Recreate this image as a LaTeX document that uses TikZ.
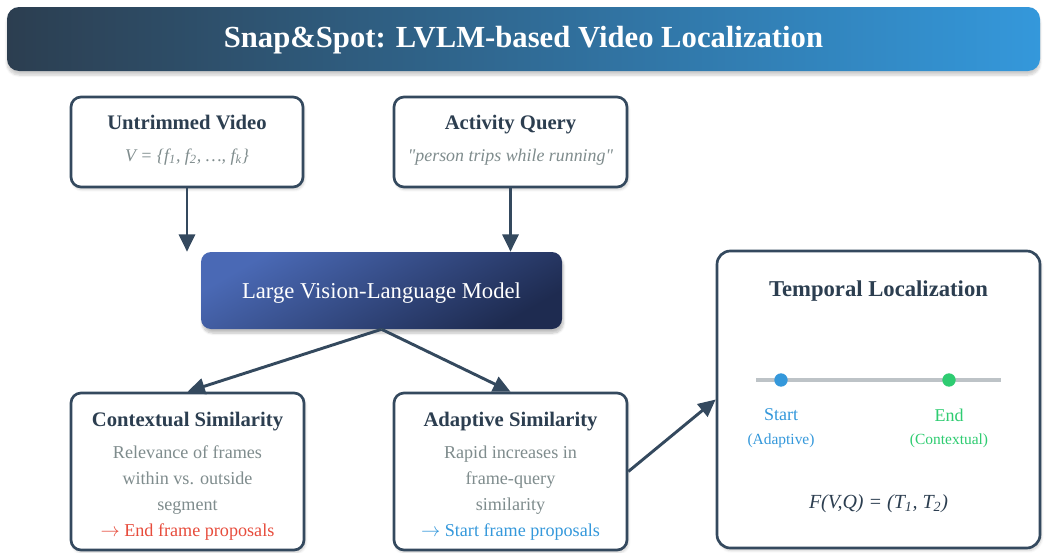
\documentclass[tikz,border=0pt]{standalone}
\usepackage{fontspec}
\setmainfont{Liberation Serif}[Ligatures=TeXOff]
\usetikzlibrary{arrows.meta,shadows.blur}

\definecolor{navy}{HTML}{2C3E50}
\definecolor{slate}{HTML}{34495E}
\definecolor{skyblue}{HTML}{3498DB}
\definecolor{mint}{HTML}{2ECC71}
\definecolor{tomato}{HTML}{E74C3C}
\definecolor{greytext}{HTML}{7F8C8D}
\definecolor{railgrey}{HTML}{BDC3C7}
\definecolor{lvlmtop}{HTML}{4A69B5}
\definecolor{lvlmbot}{HTML}{1E2B50}

\newcommand{\toarrow}{$\rightarrow$}

\tikzset{
  card/.style={draw=slate, line width=2pt, fill=white, rounded corners=7.5pt,
    blur shadow={shadow xshift=1pt, shadow yshift=-2pt, shadow blur steps=6, shadow opacity=18}},
  cardtitle/.style={font=\bfseries\fontsize{15.5}{18}\selectfont, text=navy,
    text height=10.5pt, text depth=3pt},
  cardsub/.style={font=\itshape\fontsize{13.4}{16}\selectfont, text=greytext,
    text height=9pt, text depth=3pt},
  cardbody/.style={font=\fontsize{13.6}{19.5}\selectfont, text=greytext, align=center},
  flow/.style={draw=slate, line width=2.2pt, -{Triangle[length=13pt,width=12pt]}},
}

\begin{document}
\begin{tikzpicture}[x=0.75pt,y=-0.75pt]
  \useasboundingbox (0,0) rectangle (1060,553);

  % --- header bar ---
  \node (header) [left color=navy, right color=skyblue, rounded corners=9pt,
    minimum width=774.75pt, minimum height=48pt,
    blur shadow={shadow xshift=0pt, shadow yshift=-3pt, shadow blur steps=6, shadow opacity=20}]
    at (523.5,39) {};
  \node (headertext) [font=\bfseries\fontsize{23}{27}\selectfont, text=white] at (523.5,40)
    {Snap\&Spot: LVLM-based Video Localization};

  % --- inputs ---
  \node (video) [card, minimum width=174pt, minimum height=67.5pt] at (187,142) {};
  \node (videotitle) [cardtitle] at (187,124) {Untrimmed Video};
  \node (videosub) [cardsub] at (187,157)
    {V = \{f\textsubscript{1}, f\textsubscript{2}, …, f\textsubscript{k}\}};

  \node (query) [card, minimum width=174.75pt, minimum height=67.5pt] at (510.5,142) {};
  \node (querytitle) [cardtitle] at (510.5,124) {Activity Query};
  \node (querysub) [cardsub] at (510.5,157) {"person trips while running"};

  % --- model ---
  \node (lvlm) [top color=lvlmtop, bottom color=lvlmbot, shading angle=30, rounded corners=7.5pt,
    minimum width=270.75pt, minimum height=57.75pt,
    blur shadow={shadow xshift=1pt, shadow yshift=-3pt, shadow blur steps=6, shadow opacity=25}]
    at (381.5,290.5) {};
  \node (lvlmtext) [font=\fontsize{17}{20}\selectfont, text=white] at (381.5,293)
    {Large Vision-Language Model};

  % --- similarity branches ---
  \node (ctx) [card, minimum width=174.75pt, minimum height=117.75pt] at (187.5,471.5) {};
  \node (ctxtitle) [cardtitle] at (187.5,421) {Contextual Similarity};
  \node (ctxbody) [cardbody] at (187.5,493)
    {Relevance of frames\\within vs. outside\\segment\\
     \textcolor{tomato}{\toarrow\ End frame proposals}};

  \node (adapt) [card, minimum width=174.75pt, minimum height=117.75pt] at (510.5,471.5) {};
  \node (adapttitle) [cardtitle] at (510.5,421) {Adaptive Similarity};
  \node (adaptbody) [cardbody] at (510.5,493)
    {Rapid increases in\\frame-query\\similarity\\
     \textcolor{skyblue}{\toarrow\ Start frame proposals}};

  % --- output ---
  \node (temporal) [card, rounded corners=10pt, minimum width=242.25pt, minimum height=222.75pt]
    at (878.5,399.5) {};
  \node (temporaltitle) [font=\bfseries\fontsize{17}{20}\selectfont, text=navy] at (878.5,291)
    {Temporal Localization};
  \coordinate (railL) at (756,380);
  \coordinate (railR) at (1001,380);
  \draw[railgrey, line width=3pt] (railL) -- (railR);
  \node (startdot) [circle, fill=skyblue, inner sep=0pt, minimum size=10pt] at (781,380) {};
  \node (enddot) [circle, fill=mint, inner sep=0pt, minimum size=10pt] at (949,380) {};
  \node (startlbl) [font=\fontsize{13.5}{16}\selectfont, text=skyblue] at (781,415) {Start};
  \node (startsub) [font=\fontsize{11.6}{14}\selectfont, text=skyblue] at (781,441) {(Adaptive)};
  \node (endlbl) [font=\fontsize{13.5}{16}\selectfont, text=mint] at (949,415) {End};
  \node (endsub) [font=\fontsize{11.6}{14}\selectfont, text=mint] at (949,441) {(Contextual)};
  \node (formula) [font=\itshape\fontsize{15}{18}\selectfont, text=navy] at (878.5,504)
    {F(V,Q) = (T\textsubscript{1}, T\textsubscript{2})};

  % --- connectors ---
  \draw[flow] (video.south) -- (video.south |- lvlm.north);
  \draw[flow] (query.south) -- (query.south |- lvlm.north);
  \draw[flow] (lvlm.south) -- (ctx.north);
  \draw[flow] (lvlm.south) -- (adapt.north);
  \draw[flow] (adapt.east) -- (temporal.west);
\end{tikzpicture}
\end{document}
